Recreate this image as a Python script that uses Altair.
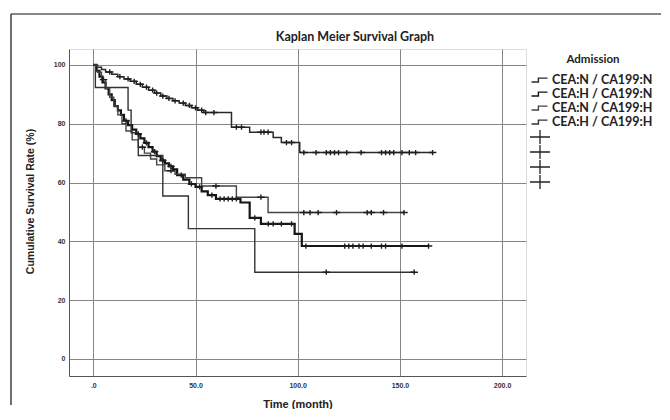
import altair as alt
import pandas as pd

series_names = ["CEA:N / CA199:N", "CEA:H / CA199:N", "CEA:N / CA199:H", "CEA:H / CA199:H"]
censored_names = [s + "-censored" for s in series_names]

# CEA:N / CA199:N  (top curve)
nn_time = [0, 2, 4, 6, 9, 12, 15, 18, 21, 24, 27, 30, 33, 36, 39, 42, 45, 48, 51, 54, 67.6, 76.5, 88, 92, 101]
nn_surv = [100, 99.2, 98.4, 97.6, 96.8, 96, 95.2, 94.4, 93.4, 92.4, 91.4, 90.4, 89.4, 88.6, 87.8, 87, 86.2, 85.4, 84.6, 83.8, 78.8, 77.1, 75.3, 73.6, 70.2]
nn_cens = [8, 13, 17, 20, 23, 26, 29, 31, 34, 37, 40, 44, 47, 50, 53, 55, 59, 70, 72.5, 82, 83.5, 85.5, 94.5, 97,
           103, 109, 114, 116, 118, 120, 124, 131, 141, 143, 145, 147, 151, 154.6, 157.7, 166]

# CEA:H / CA199:N  (thick curve, ends ~38%)
hn_time = [0, 1.5, 3, 4.5, 6, 7.5, 9, 10.5, 12, 13.5, 15, 17, 19, 21, 23, 25, 27, 29, 31, 33, 35, 37, 39, 41, 44, 47, 50, 53, 56, 60, 72, 76.5, 82, 98.5, 102]
hn_surv = [100, 98, 96, 94, 92, 90, 88, 86, 84.5, 83, 81, 79.5, 78, 76.5, 75, 73.5, 72, 70.5, 69, 67.5, 66.5, 65.5, 64.5, 62.5, 61, 59.5, 58.5, 57, 55.7, 54.4, 53.2, 48, 45.9, 42.5, 38.4]
hn_cens = [16, 22, 26, 30, 34, 38, 43, 48, 52, 58, 62, 64, 66, 68, 70, 79, 85.6, 88, 92, 97,
           104, 123, 125, 127, 130, 132, 136, 141, 143, 151, 164]

# CEA:N / CA199:H  (ends ~50%)
nh_time = [0, 2, 4, 6, 8, 10, 12, 14, 16, 19, 22, 25, 28, 31, 35, 40, 45, 53, 70, 85.5]
nh_surv = [100, 97.5, 95, 92, 89, 86, 83, 80, 77.5, 74.5, 72, 70, 68, 66, 64, 62.8, 61.6, 58.8, 55, 49.8]
nh_cens = [5, 24, 38, 60, 82, 103, 106, 110, 119, 134, 136, 142, 152]

# CEA:H / CA199:H  (ends ~29%)
hh_time = [0, 1, 17, 18.5, 22, 34, 46.5, 79]
hh_surv = [100, 92.3, 84.6, 76.9, 69.2, 55.4, 44.3, 29.5]
hh_cens = [114, 157]

line_colors = ["#2a2a2a", "#151515", "#444444", "#333333"]
line_widths = [1.5, 2.2, 1.4, 1.4]

x_ticks = [0, 50, 100, 150, 200]
y_ticks = [0, 20, 40, 60, 80, 100]
chart_title = "Kaplan Meier Survival Graph"

curves = [
    (series_names[0], censored_names[0], line_widths[0], nn_time, nn_surv, nn_cens),
    (series_names[1], censored_names[1], line_widths[1], hn_time, hn_surv, hn_cens),
    (series_names[2], censored_names[2], line_widths[2], nh_time, nh_surv, nh_cens),
    (series_names[3], censored_names[3], line_widths[3], hh_time, hh_surv, hh_cens),
]

line_rows, cens_rows = [], []
for name, cname, lw, times, surv, cens in curves:
    for t, s in zip(times, surv):
        line_rows.append({"series": name, "lw": lw, "time": t, "surv": s})
    end = max(max(cens), times[-1])
    line_rows.append({"series": name, "lw": lw, "time": end, "surv": surv[-1]})
    for c in cens:
        val = surv[0]
        for t, s in zip(times, surv):
            if t <= c:
                val = s
        cens_rows.append({"censored": cname, "time": c, "surv": val})

line_df = pd.DataFrame(line_rows)
cens_df = pd.DataFrame(cens_rows)

FONT = "Lato"
GRID = "#858585"
plus_path = "M-2.5,0L2.5,0M0,-1.75L0,1.75"
step_path = "M-1.45,0.35L-0.2,0.35L-0.2,-0.35L1.45,-0.35"

x_scale = alt.Scale(domain=[-11.9, 211.7], nice=False, zero=False)
y_scale = alt.Scale(domain=[-5.8, 105.4], nice=False, zero=False)

x_axis = alt.Axis(values=x_ticks, title="Time (month)", ticks=False, labelPadding=5,
                  labelExpr="datum.value == 0 ? '.0' : format(datum.value, '.1f')",
                  labelFontSize=7, labelFontWeight="bold", labelColor="#333",
                  gridColor=GRID, gridOpacity=1, gridWidth=1, domainColor="#555",
                  titleFontSize=11, titleFontWeight="bold", titleColor="#222", titlePadding=10)
y_axis = alt.Axis(values=y_ticks, title="Cumulative Survival Rate (%)", ticks=False, labelPadding=4,
                  labelFontSize=7, labelFontWeight="bold", labelColor="#333",
                  gridColor=GRID, gridOpacity=1, gridWidth=1, domainColor="#555",
                  titleFontSize=10.5, titleFontWeight="bold", titleColor="#222", titlePadding=18,
                  titleY=152)

lines = alt.Chart(line_df).mark_line(interpolate="step-after").encode(
    x=alt.X("time:Q", scale=x_scale, axis=x_axis),
    y=alt.Y("surv:Q", scale=y_scale, axis=y_axis),
    color=alt.Color("series:N", sort=series_names,
                    scale=alt.Scale(domain=series_names, range=line_colors),
                    legend=alt.Legend(title="Admission", orient="none", legendX=464, legendY=5,
                                      titleAnchor="middle", titleFont=FONT, titleFontSize=11.5,
                                      titleFontWeight="bold", titleColor="#222", titlePadding=8,
                                      labelFont=FONT, labelFontSize=12.5, labelFontWeight="bold",
                                      labelColor="#222", labelLimit=200, labelOffset=6,
                                      symbolType=step_path, symbolSize=121, symbolStrokeWidth=1.4,
                                      symbolFillColor="transparent", rowPadding=1, padding=0)),
    strokeWidth=alt.StrokeWidth("lw:Q", scale=None),
    order=alt.Order("time:Q"),
)

points = alt.Chart(cens_df).mark_point(filled=False, size=9, strokeWidth=1.4, color="#1e1e1e", opacity=1).encode(
    x=alt.X("time:Q", scale=x_scale),
    y=alt.Y("surv:Q", scale=y_scale),
    shape=alt.Shape("censored:N", sort=censored_names,
                    scale=alt.Scale(domain=censored_names, range=[plus_path] * 4),
                    legend=alt.Legend(title=None, orient="none", legendX=466, legendY=83,
                                      labelExpr="''", labelFontSize=1, symbolSize=64, symbolStrokeWidth=1.3,
                                      symbolStrokeColor="#222", symbolFillColor="transparent",
                                      rowPadding=-7, padding=0)),
)

frame_df = pd.DataFrame({"k": [0]})
top_border = alt.Chart(frame_df).mark_rule(color="#111", strokeWidth=1.2).encode(
    x=alt.value(-58), x2=alt.value(592), y=alt.value(-35))
left_border = alt.Chart(frame_df).mark_rule(color="#111", strokeWidth=1.2).encode(
    x=alt.value(-58), y=alt.value(-35), y2=alt.value(356))
title_text = alt.Chart(frame_df).mark_text(font=FONT, fontSize=12.5, fontWeight="bold", color="#222",
                                           align="center", baseline="middle").encode(
    x=alt.value(286), y=alt.value(-12), text=alt.value(chart_title))

chart = alt.layer(top_border, left_border, title_text, lines, points).properties(
    width=457, height=327,
    padding={"left": 2, "top": 5, "right": 0, "bottom": 0},
).configure_view(strokeWidth=0).configure_axis(
    labelFont=FONT, titleFont=FONT,
).configure(background="white")

chart.save("out.html", embed_options={"renderer": "svg", "actions": False})
